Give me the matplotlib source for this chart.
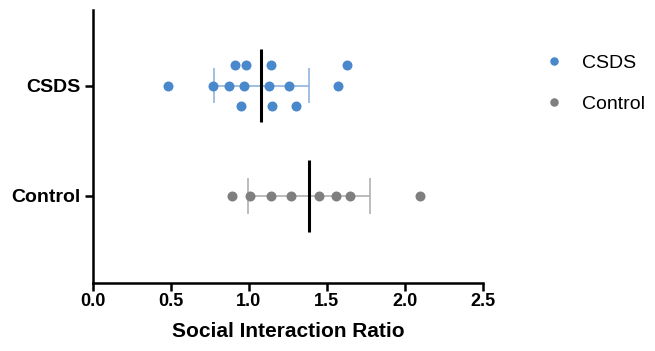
import matplotlib.pyplot as plt
import numpy as np

plt.rcParams['font.family'] = ['Liberation Sans', 'DejaVu Sans']

groups = ['Control', 'CSDS']
csds = np.array([0.91, 0.98, 1.14, 1.63,
                 0.48, 0.77, 0.87, 0.97, 1.13, 1.26, 1.57,
                 0.95, 1.15, 1.30])
control = np.array([0.89, 1.01, 1.14, 1.27, 1.45, 1.56, 1.65, 2.10])

# swarm lanes (+1 above, 0 centre, -1 below)
csds_lane = [1, 1, 1, 1, 0, 0, 0, 0, 0, 0, 0, -1, -1, -1]
control_lane = [0] * len(control)

colors = {'CSDS': '#4a88cc', 'Control': '#7f7f7f'}
err_colors = {'CSDS': '#8fb4dd', 'Control': '#b0b0b0'}

fig = plt.figure(figsize=(6.55, 3.51), dpi=100)
ax = fig.add_axes([0.142, 0.194, 0.595, 0.778])

lane_step = 0.185
for y, name, vals, lanes in [(1, 'CSDS', csds, csds_lane), (0, 'Control', control, control_lane)]:
    m = vals.mean()
    sd = vals.std(ddof=1)
    ax.hlines(y, m - sd, m + sd, color=err_colors[name], lw=1.2, zorder=1)
    ax.vlines([m - sd, m + sd], y - 0.16, y + 0.16, color=err_colors[name], lw=1.2, zorder=1)
    ax.plot(vals, y + np.array(lanes) * lane_step, 'o', ms=7.2, color=colors[name],
            mec='none', zorder=2, label=name)
    ax.vlines(m, y - 0.33, y + 0.33, color='black', lw=2.2, zorder=3)

ax.set_xlim(0, 2.5)
ax.set_ylim(-0.79, 1.69)
ax.set_xticks(np.arange(0, 2.51, 0.5))
ax.set_xticklabels(['0.0', '0.5', '1.0', '1.5', '2.0', '2.5'], fontweight='bold', fontsize=13)
ax.set_yticks([1, 0])
ax.set_yticklabels(['CSDS', 'Control'], fontweight='bold', fontsize=14)
ax.set_xlabel('Social Interaction Ratio', fontweight='bold', fontsize=15, labelpad=9)

for s in ['top', 'right']:
    ax.spines[s].set_visible(False)
for s in ['left', 'bottom']:
    ax.spines[s].set_linewidth(1.8)
ax.tick_params(width=1.8, length=6, pad=2)
ax.tick_params(axis='x', pad=1)
ax.tick_params(axis='y', pad=3)

fig.legend(loc='upper left', bbox_to_anchor=(0.805, 0.895),
           frameon=False, fontsize=14, handletextpad=0.9, labelspacing=1.2,
           handlelength=1.0, markerscale=0.85)

fig.savefig('out.png', dpi=100)
